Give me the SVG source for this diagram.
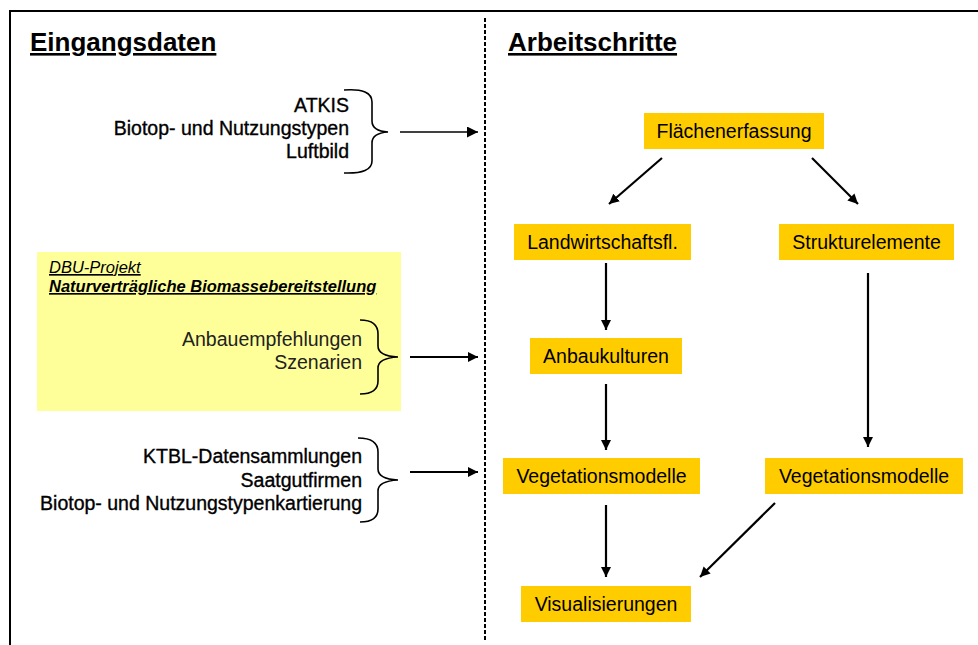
<svg xmlns="http://www.w3.org/2000/svg" width="978" height="645" viewBox="0 0 978 645">
  <defs>
    <marker id="head" viewBox="0 0 10 10" refX="10" refY="5" markerWidth="10" markerHeight="10" markerUnits="userSpaceOnUse" orient="auto">
      <path d="M0,0 L10,5 L0,10 z" fill="#000"/>
    </marker>
    <marker id="headS" viewBox="0 0 10 10" refX="10" refY="5" markerWidth="11" markerHeight="11" markerUnits="userSpaceOnUse" orient="auto">
      <path d="M0,0 L10,5 L0,10 z" fill="#000"/>
    </marker>
    <style>
      text { font-family: "Liberation Sans", Arial, sans-serif; fill: #000; }
      .head { font-size: 26px; font-weight: bold; text-decoration: underline; }
      .src { font-size: 19.5px; text-anchor: end; stroke: #000; stroke-width: 0.35px; }
      .src2 { font-size: 19.5px; text-anchor: end; fill: #222; }
      .lbl { font-size: 19.5px; text-anchor: middle; }
      .box { fill: #FFCC00; }
      .brace { fill: none; stroke: #000; stroke-width: 1.6; }
      .conn { fill: none; stroke: #000; stroke-width: 2.2; marker-end: url(#head); }
    </style>
  </defs>

  <!-- frame and column divider -->
  <g id="frame">
    <line x1="10" y1="11" x2="978" y2="11" stroke="#000" stroke-width="2"/>
    <line x1="10" y1="10" x2="10" y2="645" stroke="#000" stroke-width="2"/>
    <line x1="485" y1="18" x2="485" y2="640" stroke="#000" stroke-width="2" stroke-dasharray="4 2"/>
  </g>

  <!-- column headings -->
  <g id="headings">
    <text class="head" x="30" y="51">Eingangsdaten</text>
    <text class="head" x="508" y="51">Arbeitschritte</text>
  </g>

  <!-- input data: spatial sources -->
  <g id="input-spatial">
    <text class="src" x="349" y="112">ATKIS</text>
    <text class="src" x="349" y="135">Biotop- und Nutzungstypen</text>
    <text class="src" x="349" y="158">Luftbild</text>
    <path class="brace" d="M344,90 Q372,88 372,102 L372,121 Q372,131 388,132 Q372,133 372,143 L372,161 Q372,174 344,173"/>
  </g>

  <!-- input data: DBU project -->
  <g id="input-dbu">
    <rect x="37" y="252" width="364" height="159" fill="#FFFF99"/>
    <text x="49" y="273" style="font-size:16.5px;font-style:italic;text-decoration:underline">DBU-Projekt</text>
    <text x="49" y="292" style="font-size:16.5px;font-style:italic;font-weight:bold;text-decoration:underline">Naturverträgliche Biomassebereitstellung</text>
    <text class="src2" x="362" y="346">Anbauempfehlungen</text>
    <text class="src2" x="362" y="369">Szenarien</text>
    <path class="brace" d="M360,320 Q378,320 378,334 L378,346 Q378,356 398,357 Q378,358 378,368 L378,381 Q378,394 360,394"/>
  </g>

  <!-- input data: catalogues and mapping -->
  <g id="input-ktbl">
    <text class="src" x="362" y="463">KTBL-Datensammlungen</text>
    <text class="src" x="362" y="487">Saatgutfirmen</text>
    <text class="src" x="362" y="510">Biotop- und Nutzungstypenkartierung</text>
    <path class="brace" d="M358,438 Q378,438 378,452 L378,469 Q378,479 398,480 Q378,481 378,491 L378,509 Q378,522 360,522"/>
  </g>

  <!-- work steps -->
  <g id="flaechenerfassung">
    <rect class="box" x="644" y="113" width="180" height="36"/>
    <text class="lbl" x="734" y="138">Flächenerfassung</text>
  </g>
  <g id="landwirtschaftsfl">
    <rect class="box" x="514" y="224" width="177" height="36"/>
    <text class="lbl" x="602.5" y="249">Landwirtschaftsfl.</text>
  </g>
  <g id="strukturelemente">
    <rect class="box" x="779" y="224" width="175" height="36"/>
    <text class="lbl" x="866.5" y="249">Strukturelemente</text>
  </g>
  <g id="anbaukulturen">
    <rect class="box" x="530" y="338" width="152" height="36"/>
    <text class="lbl" x="606" y="363">Anbaukulturen</text>
  </g>
  <g id="vegetationsmodelle-1">
    <rect class="box" x="503" y="458" width="197" height="36"/>
    <text class="lbl" x="601.5" y="483">Vegetationsmodelle</text>
  </g>
  <g id="vegetationsmodelle-2">
    <rect class="box" x="765" y="458" width="198" height="36"/>
    <text class="lbl" x="864" y="483">Vegetationsmodelle</text>
  </g>
  <g id="visualisierungen">
    <rect class="box" x="521" y="586" width="170" height="36"/>
    <text class="lbl" x="606" y="611">Visualisierungen</text>
  </g>

  <!-- connectors -->
  <g id="connectors">
    <line x1="400" y1="132" x2="478" y2="132" stroke="#000" stroke-width="1.3" marker-end="url(#headS)"/>
    <line class="conn" x1="410" y1="357" x2="478" y2="357" stroke-width="2.6"/>
    <line class="conn" x1="410" y1="472" x2="478" y2="472" stroke-width="2.6"/>
    <line class="conn" x1="662" y1="158" x2="609" y2="204"/>
    <line class="conn" x1="812" y1="158" x2="858" y2="204"/>
    <line class="conn" x1="606" y1="263" x2="606" y2="330"/>
    <line class="conn" x1="868" y1="273" x2="868" y2="447"/>
    <line class="conn" x1="606" y1="384" x2="606" y2="450"/>
    <line class="conn" x1="606" y1="505" x2="606" y2="577"/>
    <line class="conn" x1="775" y1="503" x2="700" y2="577"/>
  </g>
</svg>
